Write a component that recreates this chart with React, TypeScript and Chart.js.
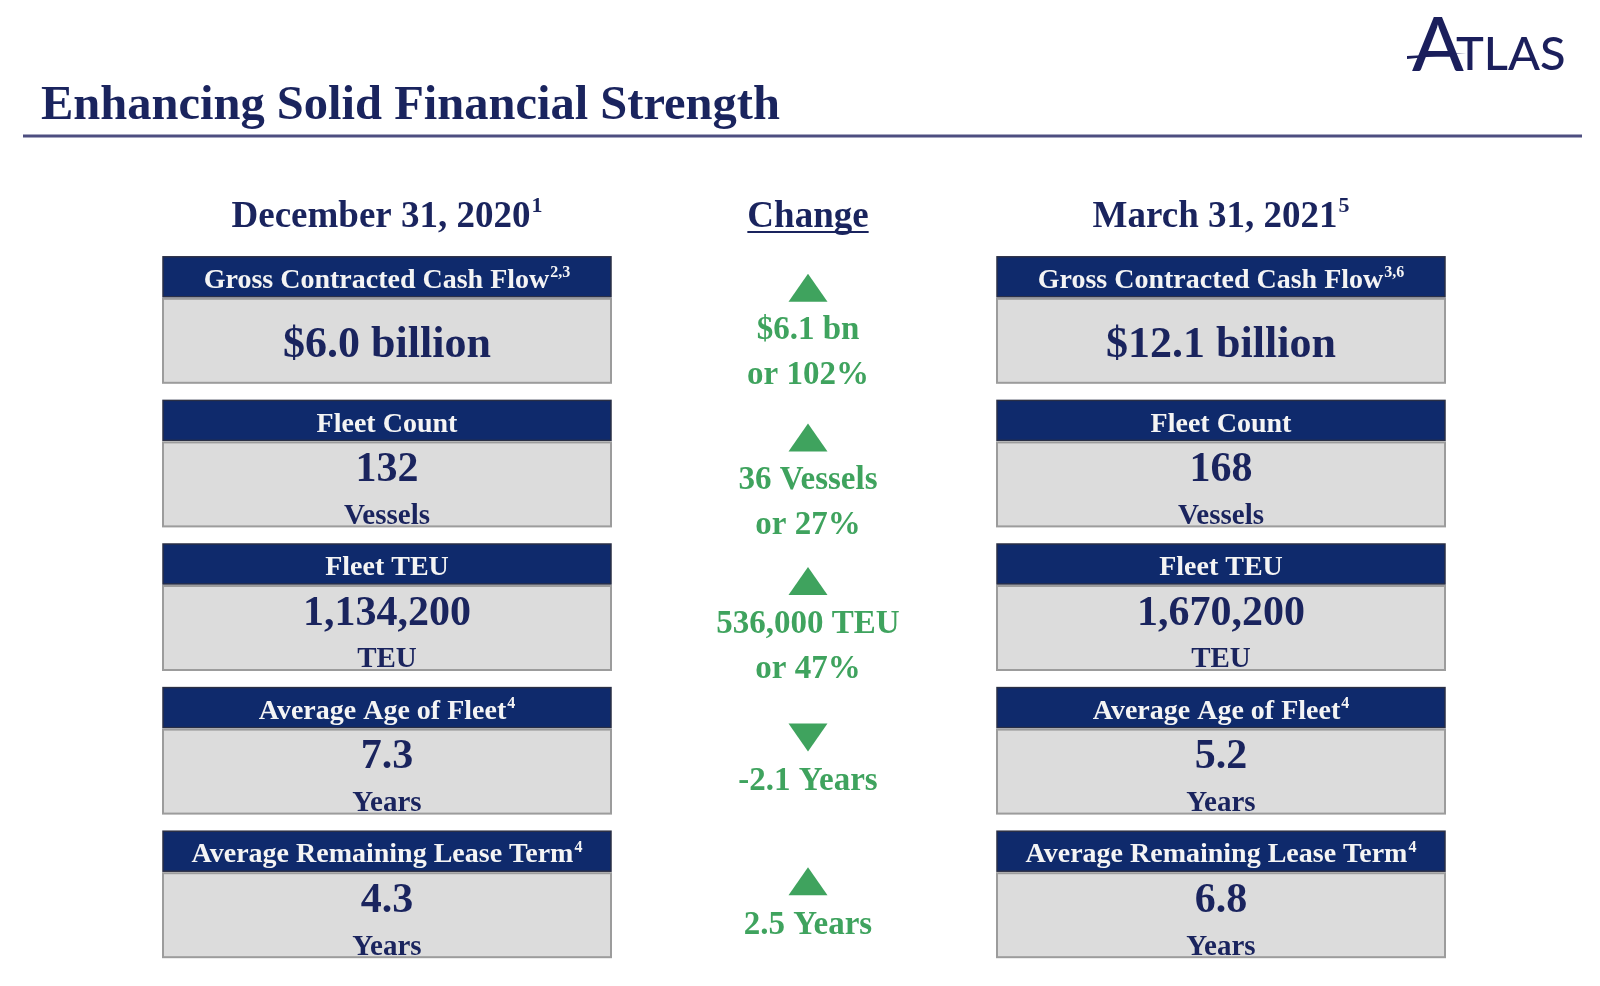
import React, { useEffect, useRef } from "react";
import { Chart, registerables } from "chart.js";
Chart.register(...registerables);

const title = "Enhancing Solid Financial Strength";
const logoText = "ATLAS";
const columns = ["December 31, 2020", "Change", "March 31, 2021"];
const columnNotes = ["1", "", "5"];
const metrics = [
  "Gross Contracted Cash Flow",
  "Fleet Count",
  "Fleet TEU",
  "Average Age of Fleet",
  "Average Remaining Lease Term",
];
const notesDec = ["2,3", "", "", "4", "4"];
const notesMar = ["3,6", "", "", "4", "4"];
const valuesDec = ["$6.0 billion", "132", "1,134,200", "7.3", "4.3"];
const valuesMar = ["$12.1 billion", "168", "1,670,200", "5.2", "6.8"];
const units = ["", "Vessels", "TEU", "Years", "Years"];
const changeLine1 = ["$6.1 bn", "36 Vessels", "536,000 TEU", "-2.1 Years", "2.5 Years"];
const changeLine2 = ["or 102%", "or 27%", "or 47%", "", ""];
const changeUp = [true, true, true, false, true];

const FONT = "'Liberation Serif', 'Times New Roman', serif";
const NAVY = "#1a245e";
const HEADER_BG = "#0f2a6c";
const BODY_BG = "#dcdcdc";
const BODY_BORDER = "#9c9c9c";
const GREEN = "#3fa35e";

function textWithSup(
  ctx: CanvasRenderingContext2D,
  text: string,
  sup: string,
  cx: number,
  cy: number,
  size: number,
  supSize: number,
  color: string
) {
  ctx.font = `bold ${size}px ${FONT}`;
  const w1 = ctx.measureText(text).width;
  ctx.font = `bold ${supSize}px ${FONT}`;
  const w2 = sup ? ctx.measureText(sup).width + 1 : 0;
  const start = cx - (w1 + w2) / 2;
  ctx.fillStyle = color;
  ctx.textAlign = "left";
  ctx.textBaseline = "middle";
  ctx.font = `bold ${size}px ${FONT}`;
  ctx.fillText(text, start, cy);
  if (sup) {
    ctx.font = `bold ${supSize}px ${FONT}`;
    ctx.fillText(sup, start + w1 + 1, cy - size * 0.28);
  }
  return w1;
}

const drawPlugin = {
  id: "infographic",
  beforeDraw(chart: any) {
    const ctx = chart.ctx as CanvasRenderingContext2D;
    ctx.save();
    ctx.fillStyle = "#ffffff";
    ctx.fillRect(0, 0, chart.width, chart.height);
    ctx.restore();
  },
  afterDraw(chart: any) {
    const ctx = chart.ctx as CanvasRenderingContext2D;
    const xs = chart.scales.x;
    const ys = chart.scales.y;
    ctx.save();

    // Title
    ctx.fillStyle = NAVY;
    ctx.font = `bold 48.5px ${FONT}`;
    ctx.textAlign = "left";
    ctx.textBaseline = "alphabetic";
    ctx.fillText(title, 41, 119);

    // Rule
    ctx.strokeStyle = "#4d4e80";
    ctx.lineWidth = 3;
    ctx.beginPath();
    ctx.moveTo(23, 136);
    ctx.lineTo(1582, 136);
    ctx.stroke();

    // Logo
    ctx.fillStyle = "#1b1f5c";
    ctx.textBaseline = "alphabetic";
    ctx.textAlign = "left";
    ctx.font = `500 76px Lato, 'DejaVu Sans', sans-serif`;
    ctx.fillText(logoText[0], 1412, 71);
    ctx.font = `500 47px Lato, 'DejaVu Sans', sans-serif`;
    ctx.fillText(logoText.slice(1), 1456, 70);
    ctx.beginPath();
    ctx.moveTo(1407, 56);
    ctx.lineTo(1466, 53);
    ctx.lineTo(1407, 59);
    ctx.closePath();
    ctx.fill();

    // Column headers
    for (let c = 0; c < columns.length; c++) {
      const cx = xs.getPixelForValue(c) + (c === 1 ? 4 : 0);
      const w = textWithSup(ctx, columns[c], columnNotes[c], cx, 217, 37, 22, NAVY);
      if (!columnNotes[c]) {
        ctx.strokeStyle = NAVY;
        ctx.lineWidth = 2;
        ctx.beginPath();
        ctx.moveTo(cx - w / 2, 232);
        ctx.lineTo(cx + w / 2, 232);
        ctx.stroke();
      }
    }

    const halfW = 224;
    for (let i = 0; i < metrics.length; i++) {
      const yc = ys.getPixelForValue(i);
      const sides: Array<[number, string, string]> = [
        [0, valuesDec[i], notesDec[i]],
        [2, valuesMar[i], notesMar[i]],
      ];
      for (const [col, val, note] of sides) {
        const cx = xs.getPixelForValue(col);
        // header
        ctx.fillStyle = HEADER_BG;
        ctx.fillRect(cx - halfW, yc - 63, halfW * 2, 40);
        ctx.strokeStyle = "#2a2f45";
        ctx.lineWidth = 1.5;
        ctx.strokeRect(cx - halfW, yc - 63, halfW * 2, 40);
        textWithSup(ctx, metrics[i], note, cx, yc - 39, 28, 16, "#f4f4f4");
        // body
        ctx.fillStyle = BODY_BG;
        ctx.fillRect(cx - halfW, yc - 21, halfW * 2, 84);
        ctx.strokeStyle = BODY_BORDER;
        ctx.lineWidth = 2;
        ctx.strokeRect(cx - halfW, yc - 21, halfW * 2, 84);
        ctx.fillStyle = NAVY;
        ctx.textAlign = "center";
        ctx.textBaseline = "middle";
        if (units[i]) {
          ctx.font = `bold 42px ${FONT}`;
          ctx.fillText(val, cx, yc + 7);
          ctx.font = `bold 29px ${FONT}`;
          ctx.fillText(units[i], cx, yc + 53);
        } else {
          ctx.font = `bold 44px ${FONT}`;
          ctx.fillText(val, cx, yc + 26);
        }
      }

      // change column
      const cx = xs.getPixelForValue(1) + 4;
      const two = !!changeLine2[i];
      const triTop = yc + (two ? (i === 0 ? -46 : -40) : -27);
      const triH = 28;
      const triHalf = 19.5;
      ctx.fillStyle = GREEN;
      ctx.beginPath();
      if (changeUp[i]) {
        ctx.moveTo(cx, triTop);
        ctx.lineTo(cx + triHalf, triTop + triH);
        ctx.lineTo(cx - triHalf, triTop + triH);
      } else {
        ctx.moveTo(cx - triHalf, triTop);
        ctx.lineTo(cx + triHalf, triTop);
        ctx.lineTo(cx, triTop + triH);
      }
      ctx.closePath();
      ctx.fill();
      ctx.font = `bold 33px ${FONT}`;
      ctx.textAlign = "center";
      ctx.textBaseline = "middle";
      const l1 = triTop + triH + (two ? 29 : 30);
      ctx.fillText(changeLine1[i], cx, l1);
      if (two) ctx.fillText(changeLine2[i], cx, l1 + 45);
    }

    ctx.restore();
  },
};

export default function App() {
  const ref = useRef<HTMLCanvasElement | null>(null);
  useEffect(() => {
    if (!ref.current) return;
    const chart = new Chart(ref.current, {
      type: "scatter",
      data: {
        datasets: [
          {
            label: "Change",
            data: metrics.map((_, i) => ({ x: 1, y: i })),
            pointRadius: 0,
            showLine: false,
          },
        ],
      },
      options: {
        animation: false,
        responsive: false,
        devicePixelRatio: 1,
        layout: { padding: { left: 178.5, right: 170.5, top: 248, bottom: 20 } },
        plugins: { legend: { display: false }, tooltip: { enabled: false } },
        events: [],
        scales: {
          x: { type: "linear", min: -0.5, max: 2.5, display: false },
          y: { type: "linear", min: -0.5, max: 4.5, reverse: true, display: false },
        },
      },
      plugins: [drawPlugin],
    });
    return () => chart.destroy();
  }, []);
  return (
    <div style={{ position: "absolute", left: 0, top: 0, width: 1600, height: 986, background: "#fff" }}>
      <canvas ref={ref} width={1600} height={986} style={{ display: "block" }} />
    </div>
  );
}
